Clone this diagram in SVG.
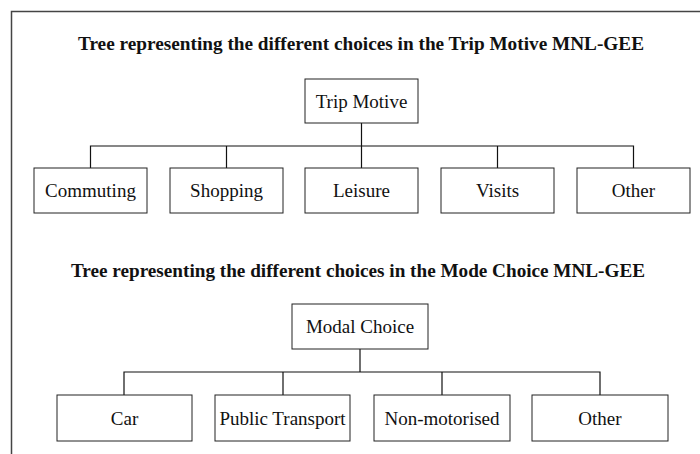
<svg xmlns="http://www.w3.org/2000/svg" width="700" height="454" viewBox="0 0 700 454">
<style>
.frame{fill:none;stroke:#444;stroke-width:1.5}
.box{fill:#fff;stroke:#222;stroke-width:1}
.con{fill:none;stroke:#111;stroke-width:1.2}
.lbl{font-family:"Liberation Serif","Times New Roman",serif;font-size:19px;fill:#111;text-anchor:middle}
.ttl{font-family:"Liberation Serif","Times New Roman",serif;font-size:19px;font-weight:bold;fill:#111;text-anchor:middle}
</style>
<rect width="700" height="454" fill="#fff"/>
<path class="frame" d="M11.5,454 V11.5 H700"/>
<text class="ttl" x="361" y="50" textLength="566" lengthAdjust="spacingAndGlyphs">Tree representing the different choices in the Trip Motive MNL-GEE</text>
<text class="ttl" x="358" y="277" textLength="574" lengthAdjust="spacingAndGlyphs">Tree representing the different choices in the Mode Choice MNL-GEE</text>
<g id="connectors">
<path class="con" d="M361.5,123 V146 M90.5,168 V146 H633.5 V168 M226.5,146 V168 M361.5,146 V168 M497.5,146 V168"/>
<path class="con" d="M360,349 V372 M124,395 V372 H600 V395 M283,372 V395 M442,372 V395"/>
</g>
<g id="trip-motive"><rect class="box" x="305" y="79" width="113" height="44"/><text class="lbl" x="361.5" y="107.7">Trip Motive</text></g>
<g id="commuting"><rect class="box" x="34" y="168" width="113" height="45"/><text class="lbl" x="90.5" y="197">Commuting</text></g>
<g id="shopping"><rect class="box" x="170" y="168" width="113" height="45"/><text class="lbl" x="226.5" y="197">Shopping</text></g>
<g id="leisure"><rect class="box" x="305" y="168" width="113" height="45"/><text class="lbl" x="361.5" y="197">Leisure</text></g>
<g id="visits"><rect class="box" x="441" y="168" width="113" height="45"/><text class="lbl" x="497.5" y="197">Visits</text></g>
<g id="other-trip"><rect class="box" x="577" y="168" width="113" height="45"/><text class="lbl" x="633.5" y="197">Other</text></g>
<g id="modal-choice"><rect class="box" x="292" y="304" width="136" height="45"/><text class="lbl" x="360" y="333">Modal Choice</text></g>
<g id="car"><rect class="box" x="57" y="395" width="135" height="46"/><text class="lbl" x="124.5" y="424.5">Car</text></g>
<g id="public-transport"><rect class="box" x="215" y="395" width="135" height="46"/><text class="lbl" x="282.5" y="424.5">Public Transport</text></g>
<g id="non-motorised"><rect class="box" x="374" y="395" width="136" height="46"/><text class="lbl" x="442" y="424.5">Non-motorised</text></g>
<g id="other-mode"><rect class="box" x="532" y="395" width="136" height="46"/><text class="lbl" x="600" y="424.5">Other</text></g>
</svg>
